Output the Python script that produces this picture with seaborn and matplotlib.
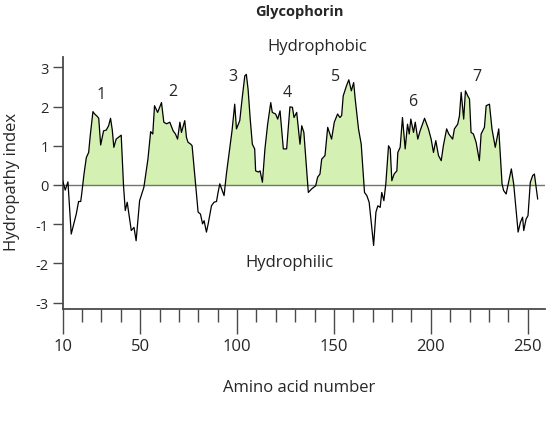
import matplotlib
matplotlib.use("Agg")
import matplotlib.pyplot as plt
import seaborn as sns
import pandas as pd
import numpy as np

# ---- data ----
residue = [10.0, 11.3, 12.7, 14.4, 17.0, 18.2, 19.3, 19.9, 21.0, 22.2, 23.4, 24.2, 25.6, 26.5,
           27.8, 28.6, 29.6, 31.1, 32.5, 33.7, 34.7, 35.6, 36.4, 37.6, 39.4, 40.2, 41.4, 42.3,
           43.3, 45.4, 46.8, 47.9, 49.7, 51.9, 54.0, 55.4, 56.5, 57.4, 59.0, 61.0, 62.2, 63.6,
           65.3, 67.0, 68.2, 69.3, 70.5, 71.3, 73.0, 73.9, 74.7, 76.1, 76.8, 78.6, 79.9, 81.1,
           82.2, 83.0, 84.2, 85.1, 86.8, 88.1, 89.4, 90.2, 91.1, 93.3, 94.5, 96.2, 97.4, 98.8,
           99.7, 101.4, 102.6, 104.0, 104.8, 105.7, 106.8, 107.9, 109.1, 109.6, 111.0, 111.9,
           113.1, 114.4, 115.8, 117.4, 118.2, 119.9, 121.0, 122.2, 123.9, 125.6, 127.3, 128.6,
           129.4, 130.8, 132.5, 133.4, 134.5, 135.4, 136.8, 138.5, 140.6, 141.6, 142.8, 143.7,
           145.4, 146.8, 148.8, 150.2, 151.9, 153.1, 154.0, 154.8, 156.5, 157.7, 159.0, 160.2,
           161.0, 162.7, 164.1, 165.8, 167.0, 168.2, 170.5, 171.7, 172.7, 173.9, 174.7, 175.8,
           176.8, 178.2, 179.1, 179.9, 181.1, 182.5, 183.0, 184.2, 185.4, 186.8, 188.0, 188.9,
           189.7, 191.1, 192.0, 193.3, 194.5, 196.8, 198.8, 200.2, 201.4, 202.6, 204.0, 205.4,
           206.5, 208.2, 209.3, 211.3, 212.2, 213.9, 214.8, 215.7, 217.0, 217.9, 219.1, 220.0,
           220.8, 222.0, 223.4, 225.1, 226.0, 227.7, 228.6, 230.3, 231.6, 233.3, 235.1, 236.8,
           237.6, 238.9, 241.6, 242.8, 244.0, 245.1, 246.3, 247.4, 248.0, 249.2, 250.2, 251.4,
           252.6, 253.5, 255.2]
hydropathy = [0.11, -0.13, 0.08, -1.25, -0.74, -0.42, -0.42, -0.19, 0.28, 0.70, 0.83, 1.25, 1.87, 1.81,
              1.75, 1.70, 1.02, 1.38, 1.40, 1.51, 1.70, 1.40, 0.96, 1.17, 1.24, 1.27, -0.02, -0.65,
              -0.44, -1.16, -1.08, -1.42, -0.40, -0.06, 0.66, 1.36, 1.30, 2.02, 1.85, 2.10, 1.60, 1.56,
              1.60, 1.38, 1.30, 1.17, 1.60, 1.34, 1.64, 1.21, 1.09, 1.04, 1.00, 0.03, -0.69, -0.74,
              -0.99, -0.91, -1.20, -0.99, -0.53, -0.44, -0.42, -0.19, 0.03, -0.27, 0.28, 0.92, 1.38, 2.06,
              1.43, 1.64, 2.19, 2.78, 2.82, 2.44, 1.68, 1.04, 0.92, 0.36, 0.33, 0.36,
              0.07, 0.92, 1.55, 2.10, 1.85, 1.81, 1.68, 1.89, 0.92, 0.92, 1.99, 1.98,
              1.72, 1.85, 1.04, 1.51, 1.34, 0.75, -0.19, -0.10, -0.02, 0.20, 0.28, 0.66,
              0.75, 1.47, 1.17, 1.60, 1.81, 1.72, 1.77, 2.27, 2.53, 2.68, 2.40, 2.61,
              2.19, 1.43, 1.04, -0.19, -0.27, -0.44, -1.54, -0.69, -0.53, -0.57, -0.19, -0.40,
              0.03, 1.00, 0.92, 0.11, 0.28, 0.36, 0.83, 0.96, 1.72, 0.92, 1.55, 1.30,
              1.68, 1.34, 1.60, 1.17, 1.38, 1.70, 1.43, 1.17, 0.83, 1.13, 0.75, 0.62,
              1.00, 1.43, 1.30, 1.17, 1.43, 1.55, 1.76, 2.36, 1.68, 2.40, 2.27, 2.19,
              1.34, 1.30, 1.09, 0.62, 1.30, 1.47, 2.02, 2.06, 1.43, 0.96, 1.43, 0.03,
              -0.14, -0.23, 0.41, 0.03, -0.61, -1.20, -0.95, -0.82, -1.16, -0.87, -0.78, 0.07,
              0.24, 0.28, -0.36]

segment_labels = ["1", "2", "3", "4", "5", "6", "7"]
segment_x = [29.7, 67.0, 97.9, 126.1, 150.9, 190.6, 223.9]
segment_y = [2.32, 2.40, 2.78, 2.37, 2.77, 2.14, 2.77]

x_major = [10, 50, 100, 150, 200, 250]
x_minor = [20, 30, 40, 60, 70, 80, 90, 110, 120, 130, 140, 160, 170, 180, 190,
           210, 220, 230, 240]
y_ticks = [-3, -2, -1, 0, 1, 2, 3]

df = pd.DataFrame({"residue": residue, "hydropathy": hydropathy})

# ---- style ----
sns.set_style("ticks")
plt.rcParams["font.family"] = ["Open Sans", "DejaVu Sans"]

fig = plt.figure(figsize=(5.5, 4.27), dpi=100)
ax = fig.add_axes([0.114, 0.274, 0.877, 0.590])

fill_col = "#d4f0b2"
axis_col = "#4a4a4a"

ax.axhline(0, color="#6d7a62", lw=1.0, zorder=1)
ax.fill_between(df["residue"], df["hydropathy"], 0, where=df["hydropathy"] > 0,
                interpolate=True, color=fill_col, lw=0, zorder=0)
sns.lineplot(data=df, x="residue", y="hydropathy", ax=ax, color="black",
             lw=0.9, sort=False, estimator=None, zorder=3)

ax.set_xlim(10, 259)
ax.set_ylim(-3.16, 3.26)

ax.set_xticks(x_major)
ax.set_xticklabels([str(v) for v in x_major])
ax.set_xticks(x_minor, minor=True)
ax.set_yticks(y_ticks)
ax.set_yticklabels([str(v) for v in y_ticks])

ax.tick_params(axis="x", which="major", direction="out", length=18, width=1.0,
               color=axis_col, labelsize=12, pad=3)
ax.tick_params(axis="x", which="minor", direction="out", length=9.5, width=1.0,
               color=axis_col)
ax.tick_params(axis="y", which="major", direction="out", length=7, width=1.0,
               color=axis_col, labelsize=10.5, pad=3)

for side in ["top", "right"]:
    ax.spines[side].set_visible(False)
for side in ["left", "bottom"]:
    ax.spines[side].set_color(axis_col)
    ax.spines[side].set_linewidth(1.3)

ax.set_xlabel("Amino acid number", fontsize=12)
ax.set_ylabel("Hydropathy index", fontsize=12)
ax.xaxis.set_label_coords(0.49, -0.278)
ax.yaxis.set_label_coords(-0.088, 0.51)

for lab, xx, yy in zip(segment_labels, segment_x, segment_y):
    ax.text(xx, yy, lab, ha="center", va="center", fontsize=11.5)

ax.text(141.6, 3.54, "Hydrophobic", ha="center", va="center", fontsize=12,
        clip_on=False)
ax.text(127.2, -1.96, "Hydrophilic", ha="center", va="center", fontsize=12)
ax.text(0.49, 1.183, "Glycophorin", transform=ax.transAxes, ha="center",
        va="center", fontsize=10.5, fontweight="bold")

fig.savefig("out.png", dpi=100)
